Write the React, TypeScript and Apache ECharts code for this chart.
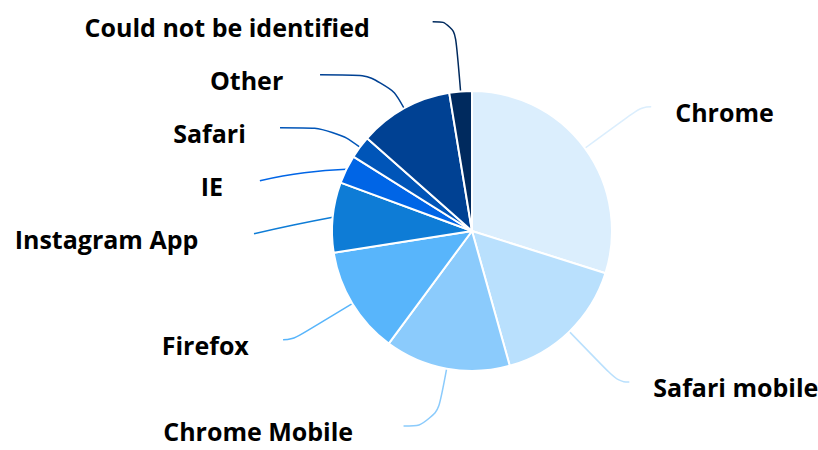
import React, { useEffect, useRef } from "react";
import * as echarts from "echarts";

const categories = [
  "Chrome",
  "Safari mobile",
  "Chrome Mobile",
  "Firefox",
  "Instagram App",
  "IE",
  "Safari",
  "Other",
  "Could not be identified",
];
const values = [29.9, 15.8, 14.5, 12.4, 8.1, 3.3, 2.6, 10.9, 2.6];
const colors = [
  "#dbeefd",
  "#b9e0fd",
  "#8bcbfc",
  "#58b5fb",
  "#0e7cd6",
  "#0065e6",
  "#0055b8",
  "#004193",
  "#002a5e",
];

const CX = 472;
const CY = 231;
const RADIUS = 140;
const LABEL_R = 218;
const LABEL_RY = 210;
const SLOT = 53;
const Y_MIN = 20;
const Y_MAX = 426;

type LabelPos = {
  right: boolean;
  endY: number;
  textX: number;
  points: number[][];
};

function computeLabels(): LabelPos[] {
  const total = values.reduce((a, b) => a + b, 0);
  let acc = 0;
  const items = values.map((v, i) => {
    const mid = ((acc + v / 2) / total) * Math.PI * 2;
    acc += v;
    const s = Math.sin(mid);
    const c = Math.cos(mid);
    return { i, mid, s, c, right: s > 0, y: CY - LABEL_RY * c };
  });
  for (const side of [true, false]) {
    const group = items.filter((it) => it.right === side).sort((a, b) => a.y - b.y);
    for (let k = 0; k < group.length; k++) {
      const prev = k > 0 ? group[k - 1].y + SLOT : Y_MIN;
      group[k].y = Math.max(group[k].y, prev, Y_MIN);
    }
    for (let k = group.length - 1; k >= 0; k--) {
      const next = k < group.length - 1 ? group[k + 1].y - SLOT : Y_MAX;
      group[k].y = Math.min(group[k].y, next, Y_MAX);
    }
  }
  const out: LabelPos[] = [];
  for (const it of items) {
    const dy = it.y - CY;
    const ratio = Math.min(1, Math.abs(dy) / LABEL_R);
    const circleDx = Math.sqrt(Math.max(0, LABEL_R * LABEL_R - dy * dy));
    const angleDx = Math.abs(LABEL_R * it.s);
    const dx = ratio < 0.85 ? circleDx : (circleDx + angleDx) / 2;
    const sign = it.right ? 1 : -1;
    const endX = CX + sign * dx;
    const endY = it.y;
    const ex = CX + RADIUS * it.s;
    const ey = CY - RADIUS * it.c;
    let mx: number;
    let my: number;
    const t = Math.abs(it.c) > 1e-6 ? (ey - endY) / it.c : -1;
    const cxr = ex + t * it.s;
    const inside = it.right ? cxr < endX - 8 && cxr >= ex - 2 : cxr > endX + 8 && cxr <= ex + 2;
    if (t > 8 && inside) {
      mx = cxr;
      my = endY;
    } else {
      const e1x = ex + 18 * it.s;
      const e1y = ey - 18 * it.c;
      const e2x = endX - sign * 18;
      mx = (e1x + e2x) / 2;
      my = (e1y + endY) / 2;
    }
    const gap = it.right
      ? 24
      : 34 + 40 * Math.pow(ratio, 8) + 24 * Math.pow(1 - ratio, 8);
    out[it.i] = {
      right: it.right,
      endY,
      textX: endX + sign * gap,
      points: [
        [ex, ey],
        [mx, my],
        [endX, endY],
      ],
    };
  }
  return out;
}

export default function App() {
  const ref = useRef<HTMLDivElement>(null);
  useEffect(() => {
    if (!ref.current) return;
    const chart = echarts.init(ref.current, undefined, { renderer: "svg" });
    const labels = computeLabels();
    chart.setOption({
      animation: false,
      series: [
        {
          type: "pie",
          center: [CX, CY],
          radius: RADIUS,
          startAngle: 90,
          clockwise: true,
          data: categories.map((name, i) => ({
            name,
            value: values[i],
            itemStyle: { color: colors[i] },
            labelLine: { lineStyle: { color: colors[i] } },
          })),
          itemStyle: { borderColor: "#ffffff", borderWidth: 2 },
          label: {
            show: true,
            formatter: "{b}",
            color: "#000000",
            fontFamily: "Open Sans",
            fontWeight: "bold",
            fontSize: 25,
            lineHeight: 26,
            overflow: "none",
          },
          labelLine: {
            show: true,
            length: 20,
            length2: 20,
            smooth: 0.5,
            lineStyle: { width: 1.5 },
          },
          labelLayout: (params: any) => {
            const l = labels[params.dataIndex];
            return {
              x: l.textX,
              y: l.endY + 5,
              align: l.right ? "left" : "right",
              verticalAlign: "middle",
              labelLinePoints: l.points,
            };
          },
          emphasis: { disabled: true },
        },
      ],
    });
    return () => chart.dispose();
  }, []);
  return (
    <div
      ref={ref}
      style={{ position: "absolute", left: 0, top: 0, width: 818, height: 450 }}
    />
  );
}
